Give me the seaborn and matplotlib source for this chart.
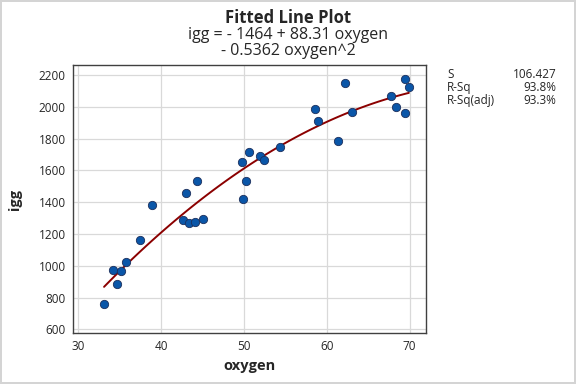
import numpy as np
import pandas as pd
import matplotlib
matplotlib.use("Agg")
import matplotlib.pyplot as plt
import seaborn as sns

# Data
oxygen = [33.1, 34.2, 34.7, 35.2, 35.7, 37.45, 38.9, 42.6, 43.0, 43.3,
          44.1, 45.1, 49.85, 44.3, 49.7, 50.65, 50.2, 51.9, 52.4, 54.4,
          58.55, 58.9, 62.2, 61.4, 63.0, 67.8, 68.4, 69.4, 69.9, 69.4]
igg = [757, 971, 883, 965, 1023, 1160, 1380, 1285, 1455, 1267,
       1275, 1292, 1421, 1533, 1652, 1715, 1533, 1690, 1663, 1746,
       1984, 1908, 2147, 1784, 1965, 2065, 1996, 2172, 2122, 1958]

x_ticks = [30, 40, 50, 60, 70]
y_ticks = [600, 800, 1000, 1200, 1400, 1600, 1800, 2000, 2200]

title = "Fitted Line Plot"
equation = ["igg = - 1464 + 88.31 oxygen", "- 0.5362 oxygen^2"]
stat_names = ["S", "R-Sq", "R-Sq(adj)"]
stat_values = ["106.427", "93.8%", "93.3%"]

df = pd.DataFrame({"oxygen": oxygen, "igg": igg})

sns.set_style("white")
plt.rcParams["font.family"] = ["Open Sans", "DejaVu Sans"]

fig = plt.figure(figsize = (5.76, 3.84), dpi = 100)
fig.patch.set_edgecolor("#d4d4d4")
fig.patch.set_linewidth(1.5)
ax = fig.add_axes([0.126, 0.132, 0.614, 0.699])

# Scatter plus quadratic fit
sns.regplot(data = df, x = "oxygen", y = "igg", order = 2, ci = None, ax = ax,
            scatter_kws = dict(s = 36, color = "#0a56a8", edgecolor = "#1c2f5c",
                               linewidths = 0.6, alpha = 1, zorder = 3),
            line_kws = dict(color = "#8b0000", linewidth = 1.4, zorder = 2))

# Axis limits and ticks
ax.set_xlim(29.3, 72.0)
ax.set_ylim(575, 2263)
ax.set_xticks(x_ticks)
ax.set_yticks(y_ticks)
ax.tick_params(axis = "both", labelsize = 8.5, length = 3, direction = "out",
               color = "#404040", pad = 2)
ax.grid(True, color = "#d9d9d9", linewidth = 0.9)
ax.set_axisbelow(True)
for sp in ax.spines.values():
    sp.set_color("#404040")
    sp.set_linewidth(1)

# Axis titles
ax.set_xlabel("oxygen", fontsize = 10.5, fontweight = "bold", labelpad = 4)
ax.set_ylabel("igg", fontsize = 10.5, fontweight = "bold", labelpad = 12)

# Titles
fig.text(0.5, 0.953, title, ha = "center", va = "center", fontsize = 12, fontweight = "bold")
fig.text(0.5, 0.909, equation[0], ha = "center", va = "center", fontsize = 11.5)
fig.text(0.5, 0.867, equation[1], ha = "center", va = "center", fontsize = 11.5)

# Summary stats
for i, (name, val) in enumerate(zip(stat_names, stat_values)):
    yy = 0.805 - i * 0.034
    fig.text(0.776, yy, name, ha = "left", va = "center", fontsize = 8.5)
    fig.text(0.966, yy, val, ha = "right", va = "center", fontsize = 8.5)

plt.savefig("out.png", dpi = 100)
plt.close()
